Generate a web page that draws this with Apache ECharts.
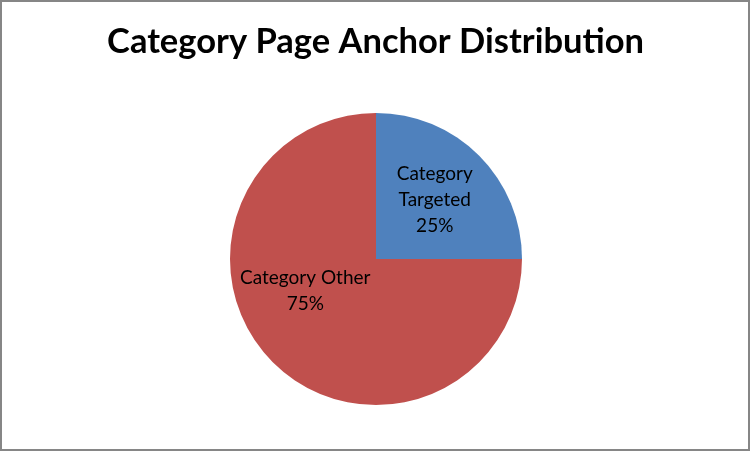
<!DOCTYPE html>
<html>
<head>
<meta charset="utf-8">
<script src="https://cdn.jsdelivr.net/npm/echarts@6/dist/echarts.min.js"></script>
<style>
html,body{margin:0;padding:0;background:#fff;}
#chart{width:751px;height:452px;}
</style>
</head>
<body>
<div id="chart"></div>
<script>
const titleText = "Category Page Anchor Distribution";
const categories = ["Category Targeted", "Category Other"];
const values = [25, 75];
const percentLabels = ["25%", "75%"];
const labelLines = [["Category", "Targeted"], ["Category Other"]];
const colors = ["#4F81BD", "#C0504D"];

const chart = echarts.init(document.getElementById('chart'), null, {renderer: 'canvas'});
const option = {
  backgroundColor: '#ffffff',
  animation: false,
  title: {
    text: titleText,
    left: 'center',
    top: 19,
    textStyle: {fontFamily: 'Lato', fontWeight: 'bold', fontSize: 34.5, color: '#000'}
  },
  graphic: [{
    type: 'rect',
    shape: {x: 1, y: 1, width: 748, height: 449},
    style: {fill: 'none', stroke: '#868686', lineWidth: 2},
    silent: true
  }],
  series: [{
    type: 'pie',
    center: [376, 259],
    radius: [0, 146],
    startAngle: 90,
    clockwise: true,
    data: categories.map((c, i) => ({
      name: c, value: values[i],
      itemStyle: {color: colors[i]},
      label: {formatter: labelLines[i].join('\n') + '\n' + percentLabels[i]}
    })),
    label: {
      show: true,
      position: 'inner',
      color: '#000',
      fontFamily: 'Lato',
      fontSize: 19,
      lineHeight: 26,
      align: 'center'
    },
    labelLine: {show: false},
    labelLayout: function (p) {
      if (p.dataIndex === 0) return {dx: 5, dy: -5};
      return {dx: -17, dy: -22};
    },
    itemStyle: {borderWidth: 0}
  }]
};
chart.setOption(option);
</script>
</body>
</html>
